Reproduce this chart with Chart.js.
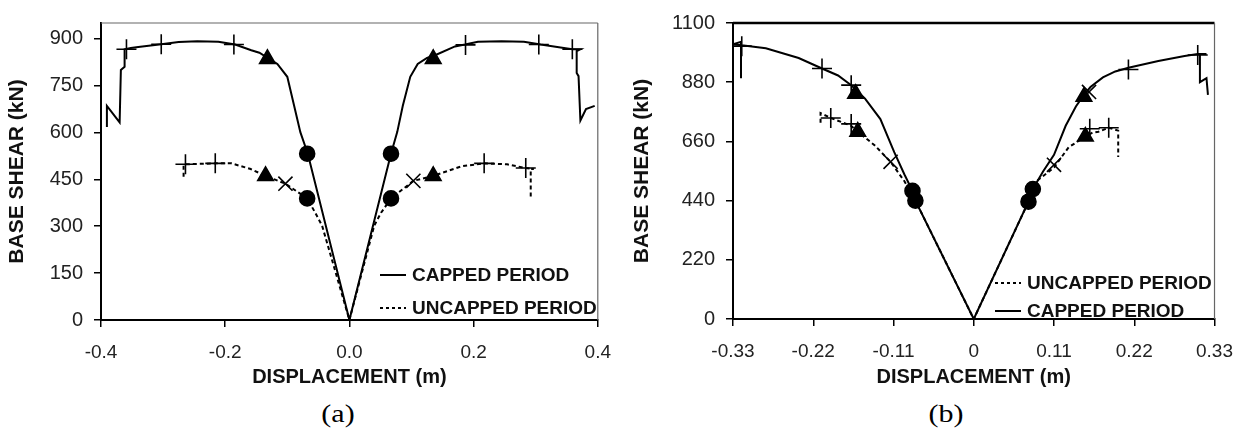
<!DOCTYPE html>
<html>
<head>
<meta charset="utf-8">
<script src="https://cdn.jsdelivr.net/npm/chart.js@4.4.1/dist/chart.umd.min.js"></script>
<style>
  body { margin: 0; background: #fff; width: 1247px; height: 435px; position: relative; overflow: hidden;
         font-family: "Liberation Sans", Arial, sans-serif; }
  canvas { position: absolute; top: 0; }
  #chartA { left: 0; }
  #chartB { left: 625px; }
  .leg { position: absolute; height: 20px; display: flex; align-items: center; white-space: nowrap;
         font-weight: bold; font-size: 19px; color: #111; }
  .leg i { display: inline-block; width: 26px; height: 2px; margin-right: 6px; background: #000; }
  .leg i.dash { background: repeating-linear-gradient(to right, #000 0 3px, transparent 3px 6px); }
  .cap { position: absolute; font-family: "Liberation Serif", "Times New Roman", serif; font-size: 25px;
         line-height: 1; transform: translateX(-50%) scaleX(1.2); }
</style>
</head>
<body>
<canvas id="chartA" width="625" height="395"></canvas>
<canvas id="chartB" width="622" height="395"></canvas>

<div class="leg" style="left:380px;top:265px"><i></i>CAPPED PERIOD</div>
<div class="leg" style="left:380px;top:298px"><i class="dash"></i>UNCAPPED PERIOD</div>
<div class="leg" style="left:995px;top:273px"><i class="dash"></i>UNCAPPED PERIOD</div>
<div class="leg" style="left:995px;top:301px"><i></i>CAPPED PERIOD</div>

<div class="cap" style="left:338px;top:401px">(a)</div>
<div class="cap" style="left:946px;top:401px">(b)</div>

<script>
// ---- panel (a) ----
const aXTicks = [-0.4, -0.2, 0, 0.2, 0.4];
const aYTicks = [0, 150, 300, 450, 600, 750, 900];

const aCapX = [-0.3905, -0.3905, -0.370, -0.368, -0.362, -0.362, -0.352, -0.340, -0.303, -0.275,
  -0.245, -0.211, -0.184, -0.158, -0.145, -0.116, -0.100, -0.089, -0.079, -0.067,
  0,
  0.067, 0.077, 0.086, 0.098, 0.110, 0.125, 0.138, 0.170, 0.186, 0.207,
  0.245, 0.281, 0.308, 0.340, 0.359, 0.372, 0.366, 0.366, 0.369, 0.372,
  0.381, 0.395];
const aCapY = [617, 685, 632, 800, 810, 866, 870, 873, 882, 889,
  892, 890, 881, 863, 855, 819, 778, 685, 601, 532,
  0,
  532, 601, 685, 778, 819, 838, 847, 875, 881, 890,
  892, 890, 881, 872, 866, 866, 860, 790, 780, 638,
  675, 685];

const aUncX = [-0.267, -0.267, -0.264, -0.216, -0.190, -0.159, -0.135, -0.103, -0.068, -0.055,
  -0.044, 0, 0.040, 0.051, 0.067, 0.103, 0.135, 0.181, 0.217, 0.254,
  0.284, 0.297, 0.292, 0.292];
const aUncY = [458, 495, 498, 501, 501, 483, 461, 436, 389, 343,
  302, 0, 302, 343, 389, 445, 461, 492, 501, 498,
  486, 483, 483, 389];

const aPlus = [[-0.359, 866], [-0.303, 882], [-0.186, 881], [0.187, 880], [0.305, 881], [0.359, 866],
  [-0.264, 498], [-0.216, 501], [0.217, 501], [0.284, 486]];
const aTri = [[-0.132, 835], [0.135, 835], [-0.135, 461], [0.135, 461]];
const aCross = [[-0.103, 436], [0.103, 445]];
const aDot = [[-0.068, 532], [0.067, 532], [-0.068, 389], [0.067, 389]];

// ---- panel (b) ----
const bXTicks = [-0.33, -0.22, -0.11, 0, 0.11, 0.22, 0.33];
const bYTicks = [0, 220, 440, 660, 880, 1100];

const bCapX = [-0.319, -0.319, -0.330, -0.318, -0.285, -0.240, -0.208, -0.186, -0.168, -0.149,
  -0.128, -0.109, -0.095, -0.084, -0.080,
  0,
  0.075, 0.081, 0.095, 0.110, 0.126, 0.140, 0.151, 0.160, 0.177, 0.194,
  0.212, 0.253, 0.289, 0.307, 0.319, 0.310, 0.310, 0.319, 0.321];
const bCapY = [895, 1030, 1021, 1017, 1006, 970, 931, 905, 869, 819,
  743, 620, 537, 476, 440,
  0,
  436, 483, 548, 610, 718, 790, 833, 862, 898, 920,
  934, 959, 977, 985, 985, 985, 880, 895, 833];

const bUncX = [-0.210, -0.210, -0.196, -0.168, -0.159, -0.136, -0.114, -0.095, -0.080, 0,
  0.075, 0.086, 0.110, 0.130, 0.153, 0.163, 0.171, 0.185, 0.194, 0.198, 0.198];
const bUncY = [729, 765, 747, 718, 696, 646, 584, 512, 440, 0,
  436, 512, 563, 638, 678, 693, 696, 711, 703, 700, 602];

const bPlus = [[-0.318, 1014], [-0.208, 931], [-0.168, 869], [0.212, 927], [0.307, 981],
  [-0.196, 747], [-0.168, 725], [0.159, 707], [0.185, 711]];
const bTri = [[-0.162, 837], [0.151, 826], [-0.159, 696], [0.153, 678]];
const bCross = [[0.158, 844], [-0.114, 584], [0.110, 573]];
const bDot = [[-0.084, 476], [0.081, 483], [-0.080, 440], [0.075, 436]];

const FONT = '"Liberation Sans", Arial, sans-serif';

const pts = (xs, ys) => xs.map((x, i) => ({ x: x, y: ys[i] }));
const pairs = (arr) => arr.map(p => ({ x: p[0], y: p[1] }));

// top + right border of the plot area
const frame = {
  id: 'frame',
  afterDraw(chart, args, o) {
    const { ctx, chartArea: a } = chart;
    ctx.save();
    ctx.strokeStyle = o.topColor;
    ctx.lineWidth = o.topWidth;
    ctx.beginPath(); ctx.moveTo(a.left, a.top); ctx.lineTo(a.right, a.top); ctx.stroke();
    ctx.strokeStyle = '#666';
    ctx.lineWidth = 1.2;
    ctx.beginPath(); ctx.moveTo(a.right, a.top); ctx.lineTo(a.right, a.bottom); ctx.stroke();
    ctx.restore();
  }
};

function lineSet(data, dash) {
  return { data: data, showLine: true, borderColor: '#000', borderWidth: 2, borderDash: dash,
           pointRadius: 0, tension: 0, order: 1 };
}
function markSet(data, style, r) {
  return { data: data, showLine: false, pointStyle: style, pointRadius: r, pointBorderWidth: 1.6,
           pointBorderColor: '#000', pointBackgroundColor: '#000', order: 0 };
}

function makePanel(id, p) {
  new Chart(document.getElementById(id), {
    type: 'scatter',
    data: {
      datasets: [
        lineSet(p.cap, []),
        lineSet(p.unc, [4, 3]),
        markSet(p.plus, 'cross', 10),
        markSet(p.tri, 'triangle', 9),
        markSet(p.cross, 'crossRot', 10),
        markSet(p.dot, 'circle', 7.5)
      ]
    },
    options: {
      responsive: false,
      animation: false,
      layout: { padding: { left: 0, right: p.padRight, top: p.padTop, bottom: 0 } },
      plugins: { legend: { display: false }, tooltip: { enabled: false },
                 frame: { topColor: p.topColor, topWidth: p.topWidth } },
      scales: {
        x: {
          type: 'linear', min: p.xTicks[0], max: p.xTicks[p.xTicks.length - 1],
          afterBuildTicks: s => { s.ticks = p.xTicks.map(v => ({ value: v })); },
          afterFit: s => { s.height = p.xHeight; },
          border: { color: '#000', width: 2 },
          grid: { drawOnChartArea: false, drawTicks: true, tickLength: 7, color: '#000', lineWidth: 1.5 },
          ticks: { font: { family: FONT, size: 19 }, color: '#222', padding: 14, maxRotation: 0,
                   autoSkip: false, callback: p.xFmt },
          title: { display: true, text: 'DISPLACEMENT (m)', color: '#111',
                   font: { family: FONT, size: 20, weight: 'bold' }, padding: { top: 0, bottom: 6 } }
        },
        y: {
          type: 'linear', min: 0, max: p.yMax,
          afterBuildTicks: s => { s.ticks = p.yTicks.map(v => ({ value: v })); },
          afterFit: s => { s.width = p.yWidth; },
          border: { color: '#000', width: 2 },
          grid: { drawOnChartArea: false, drawTicks: true, tickLength: 7, color: '#000', lineWidth: 1.5 },
          ticks: { font: { family: FONT, size: 20 }, color: '#222', padding: 11, autoSkip: false,
                   callback: v => String(v) },
          title: { display: true, text: 'BASE SHEAR (kN)', color: '#111',
                   font: { family: FONT, size: 21, weight: 'bold' }, padding: { top: 5, bottom: 0 } }
        }
      }
    },
    plugins: [frame]
  });
}

makePanel('chartA', {
  cap: pts(aCapX, aCapY), unc: pts(aUncX, aUncY),
  plus: pairs(aPlus), tri: pairs(aTri), cross: pairs(aCross), dot: pairs(aDot),
  xTicks: aXTicks, yTicks: aYTicks, yMax: 950,
  xFmt: v => v.toFixed(1),
  padRight: 21, padTop: 15, xHeight: 75, yWidth: 101,
  topColor: '#666', topWidth: 1.2
});

makePanel('chartB', {
  cap: pts(bCapX, bCapY), unc: pts(bUncX, bUncY),
  plus: pairs(bPlus), tri: pairs(bTri), cross: pairs(bCross), dot: pairs(bDot),
  xTicks: bXTicks, yTicks: bYTicks, yMax: 1100,
  xFmt: v => (v === 0 ? '0' : v.toFixed(2)),
  padRight: 28, padTop: 14, xHeight: 76, yWidth: 108,
  topColor: '#000', topWidth: 2.5
});
</script>
</body>
</html>
